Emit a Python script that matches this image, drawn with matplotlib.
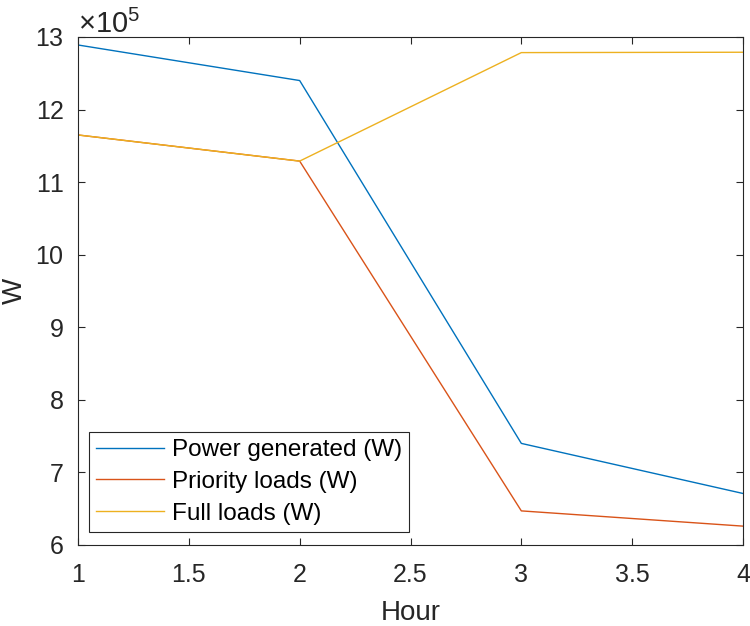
import matplotlib
matplotlib.use("Agg")
from matplotlib import pyplot as plt

plt.rcParams['font.family'] = ['Liberation Sans', 'DejaVu Sans']
plt.rcParams['mathtext.fontset'] = 'custom'
plt.rcParams['mathtext.rm'] = 'Liberation Sans'

hour = [1, 2, 3, 4]
power_generated = [12.89e5, 12.40e5, 7.40e5, 6.71e5]
priority_loads = [11.65e5, 11.29e5, 6.47e5, 6.26e5]
full_loads = [11.65e5, 11.29e5, 12.785e5, 12.79e5]

labels = ['Power generated (W)', 'Priority loads (W)', 'Full loads (W)']
colors = ['#0072BD', '#D95319', '#EDB120']
dark = '#262626'

fig = plt.figure(figsize=(7.5, 6.26), dpi=100)
ax = fig.add_axes([78 / 750, 81 / 626, 665 / 750, 508 / 626])

for series, label, color in zip([power_generated, priority_loads, full_loads], labels, colors):
    ax.plot(hour, series, color=color, linewidth=1.0, label=label)

ax.set_xlim(1, 4)
ax.set_ylim(6e5, 13e5)
ax.set_xticks([1, 1.5, 2, 2.5, 3, 3.5, 4])
ax.set_xticklabels(['1', '1.5', '2', '2.5', '3', '3.5', '4'])
ax.set_yticks([i * 1e5 for i in range(6, 14)])
ax.ticklabel_format(axis='y', style='sci', scilimits=(5, 5), useMathText=True)

ax.tick_params(direction='in', length=5, width=0.8, top=True, right=True,
               labelsize=18, colors=dark, pad=10)
ax.tick_params(axis='x', pad=13)
ax.yaxis.get_offset_text().set_fontsize(21)
ax.yaxis.get_offset_text().set_color(dark)
for spine in ax.spines.values():
    spine.set_color(dark)
    spine.set_linewidth(0.8)

ax.set_xlabel('Hour', fontsize=20, color=dark, labelpad=9)
ax.set_ylabel('W', fontsize=20, color=dark, labelpad=5)

leg = ax.legend(loc='lower left', bbox_to_anchor=(0.0165, 0.026), fontsize=17.5,
                frameon=True, fancybox=False, framealpha=1, edgecolor=dark,
                handlelength=2.8, handletextpad=0.3, labelspacing=0.4,
                borderpad=0.3, borderaxespad=0)
leg.get_frame().set_linewidth(0.8)

fig.savefig('out.png', dpi=100)
